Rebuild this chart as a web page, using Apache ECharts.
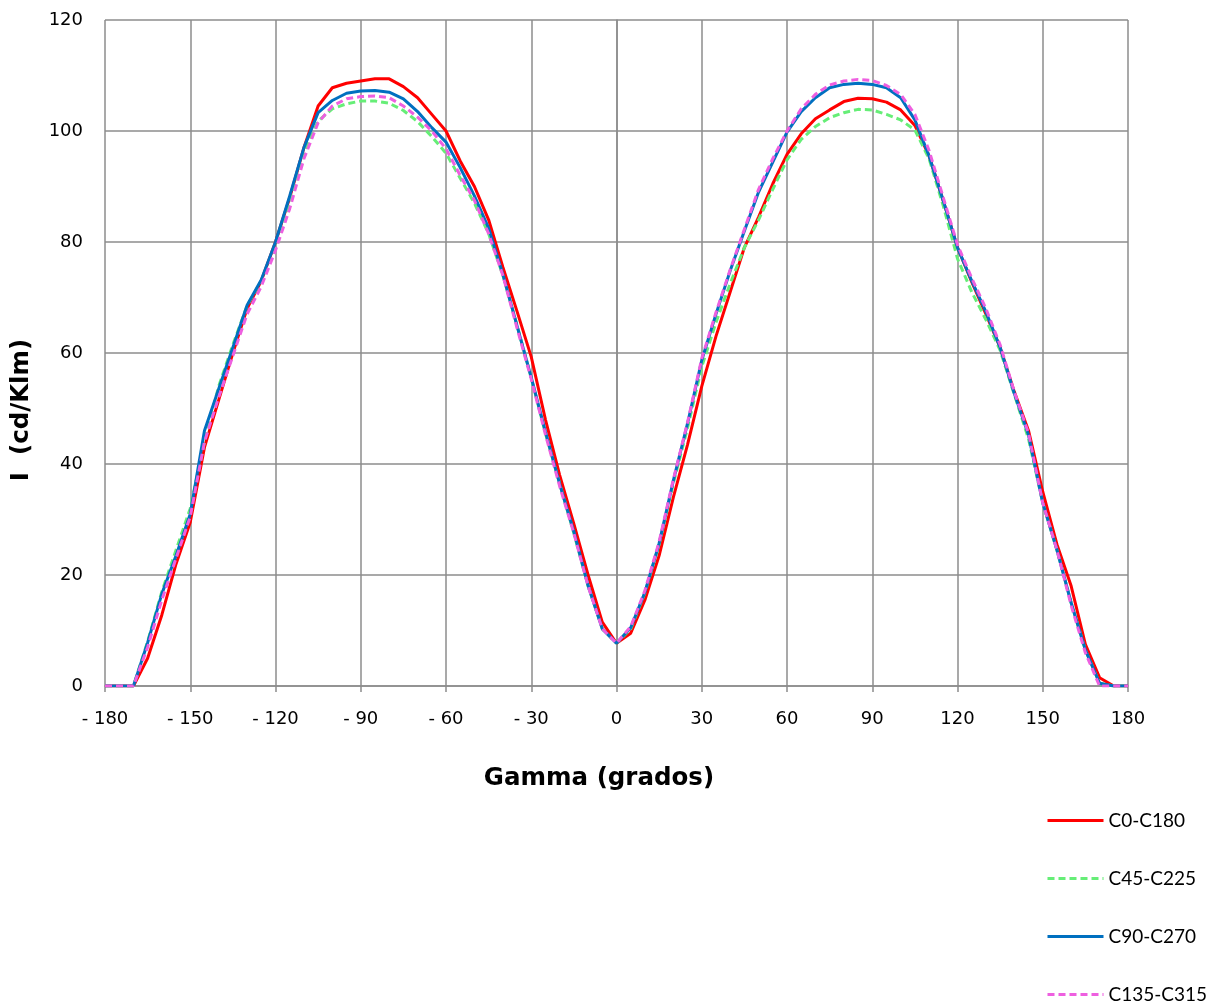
<!DOCTYPE html>
<html>
<head>
<meta charset="utf-8">
<script src="https://cdn.jsdelivr.net/npm/echarts@6/dist/echarts.min.js"></script>
<style>
  html, body { margin: 0; padding: 0; background: #fff; }
  #chart { width: 1216px; height: 1007px; }
</style>
</head>
<body>
<div id="chart"></div>
<script>
// gamma angles (degrees), 5 degree steps
var gamma = [-180, -175, -170, -165, -160, -155, -150, -145, -140, -135, -130, -125,
  -120, -115, -110, -105, -100, -95, -90, -85, -80, -75, -70, -65,
  -60, -55, -50, -45, -40, -35, -30, -25, -20, -15, -10, -5,
  0, 5, 10, 15, 20, 25, 30, 35, 40, 45, 50, 55,
  60, 65, 70, 75, 80, 85, 90, 95, 100, 105, 110, 115,
  120, 125, 130, 135, 140, 145, 150, 155, 160, 165, 170, 175, 180];

// intensity, cd/Klm
var c0c180 = [0, 0, 0, 5, 12.8, 22, 29.5, 43, 51.5, 60, 68, 73,
  80, 88, 97, 104.5, 107.8, 108.6, 109, 109.4, 109.4, 108, 106, 103,
  100, 94.6, 90, 84, 75.5, 67.5, 59.3, 48, 38, 29.2, 20, 11.5,
  7.7, 9.5, 15.5, 23.5, 34, 43.5, 54, 63, 71, 79, 84.5, 90.5,
  95.8, 99.5, 102.2, 103.8, 105.3, 105.9, 105.8, 105.2, 103.8, 101, 95.5, 87.4,
  79, 72.8, 67, 61, 53, 46, 35, 25.5, 18, 7.5, 1.5, 0, 0];

var c45c225 = [0, 0, 0, 8, 17, 24.5, 32, 44, 54, 61.5, 68.5, 73,
  79, 87, 96, 101.8, 104, 104.9, 105.4, 105.4, 105, 103.7, 101.7, 99,
  96, 91.5, 87, 81.5, 74, 65, 55.5, 45.5, 36.5, 27.5, 18, 10.3,
  7.7, 10.3, 16.8, 25.5, 36.5, 46.5, 57.5, 65.5, 72.5, 79, 84, 89.5,
  94.8, 98.5, 100.8, 102.4, 103.3, 103.9, 103.8, 103, 102, 100.2, 95, 86.5,
  77, 71, 66, 60.5, 52.5, 44.5, 33, 24.5, 15, 6.5, 0.5, 0, 0];

var c90c270 = [0, 0, 0, 7.8, 16.6, 23.5, 31, 46, 53.5, 61, 68.6, 73.2,
  80, 88.3, 97, 103.3, 105.5, 106.8, 107.2, 107.3, 107, 105.8, 103.5, 100.6,
  98, 93.4, 88.3, 82.5, 74.2, 64.9, 55.6, 45.8, 36.4, 27.8, 18.1, 10.3,
  7.7, 10.5, 16.9, 25.7, 37, 47.3, 58.7, 67, 74.8, 82, 89, 94.4,
  99.8, 103.5, 106, 107.8, 108.4, 108.6, 108.4, 107.8, 106, 102, 95.5, 87.4,
  79, 73, 67.4, 61, 52.7, 45.2, 33, 24.5, 15, 6.5, 0.5, 0, 0];

var c135c315 = [0, 0, 0, 7, 15.5, 23, 30.5, 44, 52, 59.5, 67, 72,
  78.5, 86, 95, 101.5, 104.5, 105.8, 106.2, 106.3, 106, 104.5, 102.5, 100,
  96.8, 92, 87.5, 81.5, 74, 64.5, 55.3, 45.3, 36, 27.5, 18, 10.3,
  7.7, 10.7, 17.2, 26, 37.2, 47.5, 59, 67.3, 75, 82.3, 89.5, 95,
  100, 104, 106.6, 108.3, 109, 109.3, 109.1, 108.2, 106.6, 103, 96.5, 88,
  79.5, 73.5, 68, 61.5, 53, 45.5, 33, 24.5, 14.5, 6, 0, 0, 0];

var seriesNames = ['C0-C180', 'C45-C225', 'C90-C270', 'C135-C315'];
var seriesColors = ['#ff0000', '#66ee77', '#0070c0', '#ee5fe0'];
var seriesDash = ['solid', 'dashed', 'solid', 'dashed'];
var seriesValues = [c0c180, c45c225, c90c270, c135c315];

function pairs(vals) {
  return gamma.map(function (g, i) { return [g, vals[i]]; });
}

var myChart = echarts.init(document.getElementById('chart'));

var option = {
  animation: false,
  backgroundColor: '#ffffff',
  grid: { left: 105, right: 88, top: 20, bottom: 321 },
  xAxis: {
    type: 'value',
    min: -180,
    max: 180,
    interval: 30,
    axisLine: { show: true, lineStyle: { color: '#8c8c8c', width: 1.5 } },
    axisTick: { show: true, length: 6, lineStyle: { color: '#8c8c8c', width: 1.5 } },
    splitLine: { show: true, lineStyle: { color: '#8c8c8c', width: 1.5 } },
    axisLabel: {
      margin: 24,
      color: '#000',
      fontFamily: 'DejaVu Sans',
      fontSize: 18,
      formatter: function (v) { return v < 0 ? '- ' + (-v) : String(v); }
    }
  },
  yAxis: {
    type: 'value',
    min: 0,
    max: 120,
    interval: 20,
    axisLine: { show: true, lineStyle: { color: '#8c8c8c', width: 1.5 } },
    axisTick: { show: false },
    splitLine: { show: true, lineStyle: { color: '#8c8c8c', width: 1.5 } },
    axisLabel: {
      margin: 22,
      color: '#000',
      fontFamily: 'DejaVu Sans',
      fontSize: 18
    }
  },
  legend: {
    orient: 'vertical',
    left: 1046,
    top: 811,
    padding: 0,
    itemWidth: 56,
    itemHeight: 4,
    itemGap: 39,
    itemStyle: { opacity: 0 },
    lineStyle: { width: 3 },
    textStyle: { fontFamily: 'Lato', fontSize: 19, lineHeight: 16, color: '#000' },
    data: seriesNames
  },
  graphic: [
    {
      type: 'text',
      x: 599,
      y: 779,
      style: {
        text: 'Gamma (grados)',
        font: 'bold 24.5px "DejaVu Sans"',
        fill: '#000',
        align: 'center',
        verticalAlign: 'middle'
      }
    },
    {
      type: 'text',
      x: 22,
      y: 410,
      rotation: Math.PI / 2,
      style: {
        text: 'I  (cd/Klm)',
        font: 'bold 24.5px "DejaVu Sans"',
        fill: '#000',
        align: 'center',
        verticalAlign: 'middle'
      }
    }
  ],
  series: seriesNames.map(function (name, k) {
    return {
      name: name,
      type: 'line',
      data: pairs(seriesValues[k]),
      showSymbol: false,
      symbol: 'none',
      color: seriesColors[k],
      lineStyle: {
        color: seriesColors[k],
        width: 3,
        type: seriesDash[k] === 'dashed' ? [7, 4] : 'solid'
      }
    };
  })
};

myChart.setOption(option);
</script>
</body>
</html>
